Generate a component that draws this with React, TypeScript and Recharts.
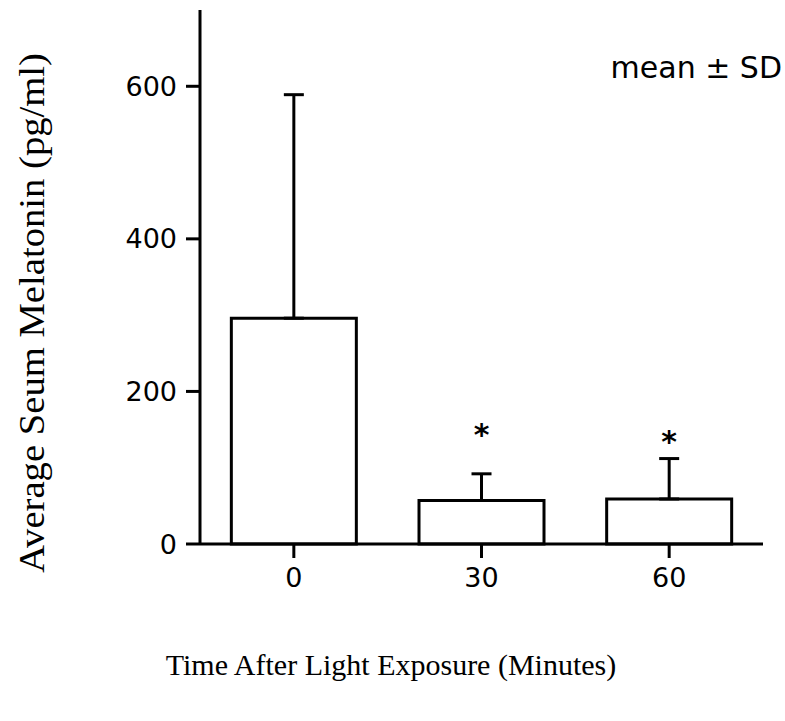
import { Bar, ComposedChart, ErrorBar, Scatter, XAxis, YAxis } from "recharts";

const times = ["0", "30", "60"];
const meanMelatonin = [296, 57, 59];
const sdMelatonin = [293, 35, 53];
// height of the significance asterisks above each bar (null = none)
const starLevel = [null, 143, 135];
const yTicks = [0, 200, 400, 600];

const data = times.map((time, i) => ({
  time,
  mean: meanMelatonin[i],
  sd: [0, sdMelatonin[i]],
  star: starLevel[i],
}));

const tickFont = { fill: "#000", fontSize: 27, fontFamily: "DejaVu Sans" };

const Star = (props: any) => {
  if (props.cx == null || props.cy == null) return null;
  return (
    <text
      x={props.cx}
      y={props.cy}
      textAnchor="middle"
      dominantBaseline="central"
      fontFamily="DejaVu Sans"
      fontSize={30}
      fontWeight="bold"
      fill="#000"
    >
      *
    </text>
  );
};

const App = () => {
  return (
    <div style={{ position: "absolute", left: 0, top: 0, background: "#fff" }}>
      <ComposedChart
        width={785}
        height={721}
        data={data}
        margin={{ top: 10, right: 22, bottom: 0, left: 0 }}
        barCategoryGap="16.7%"
      >
        <XAxis
          dataKey="time"
          axisLine={{ stroke: "#000", strokeWidth: 3 }}
          tickLine={{ stroke: "#000", strokeWidth: 3 }}
          tickSize={14}
          tickMargin={10}
          tick={tickFont}
          height={177}
        />
        <YAxis
          domain={[0, 700]}
          ticks={yTicks}
          width={200}
          axisLine={{ stroke: "#000", strokeWidth: 3 }}
          tickLine={{ stroke: "#000", strokeWidth: 3 }}
          tickSize={14}
          tickMargin={9}
          tick={tickFont}
        />
        <Bar
          dataKey="mean"
          fill="#fff"
          stroke="#000"
          strokeWidth={3}
          isAnimationActive={false}
        >
          <ErrorBar
            dataKey="sd"
            direction="y"
            width={10}
            stroke="#000"
            strokeWidth={3}
          />
        </Bar>
        <Scatter dataKey="star" shape={Star} isAnimationActive={false} />
        <text
          x={782}
          y={78}
          textAnchor="end"
          fontFamily="DejaVu Sans"
          fontSize={30}
          fill="#000"
        >
          mean ± SD
        </text>
        <text
          x={391}
          y={675}
          textAnchor="middle"
          fontFamily="Liberation Serif"
          fontSize={30}
          fill="#000"
        >
          Time After Light Exposure (Minutes)
        </text>
        <text
          x={44}
          y={313}
          transform="rotate(-90 44 313)"
          textAnchor="middle"
          fontFamily="Liberation Serif"
          fontSize={35}
          textLength={520}
          lengthAdjust="spacingAndGlyphs"
          fill="#000"
        >
          Average Seum Melatonin (pg/ml)
        </text>
      </ComposedChart>
    </div>
  );
};

export default App;
